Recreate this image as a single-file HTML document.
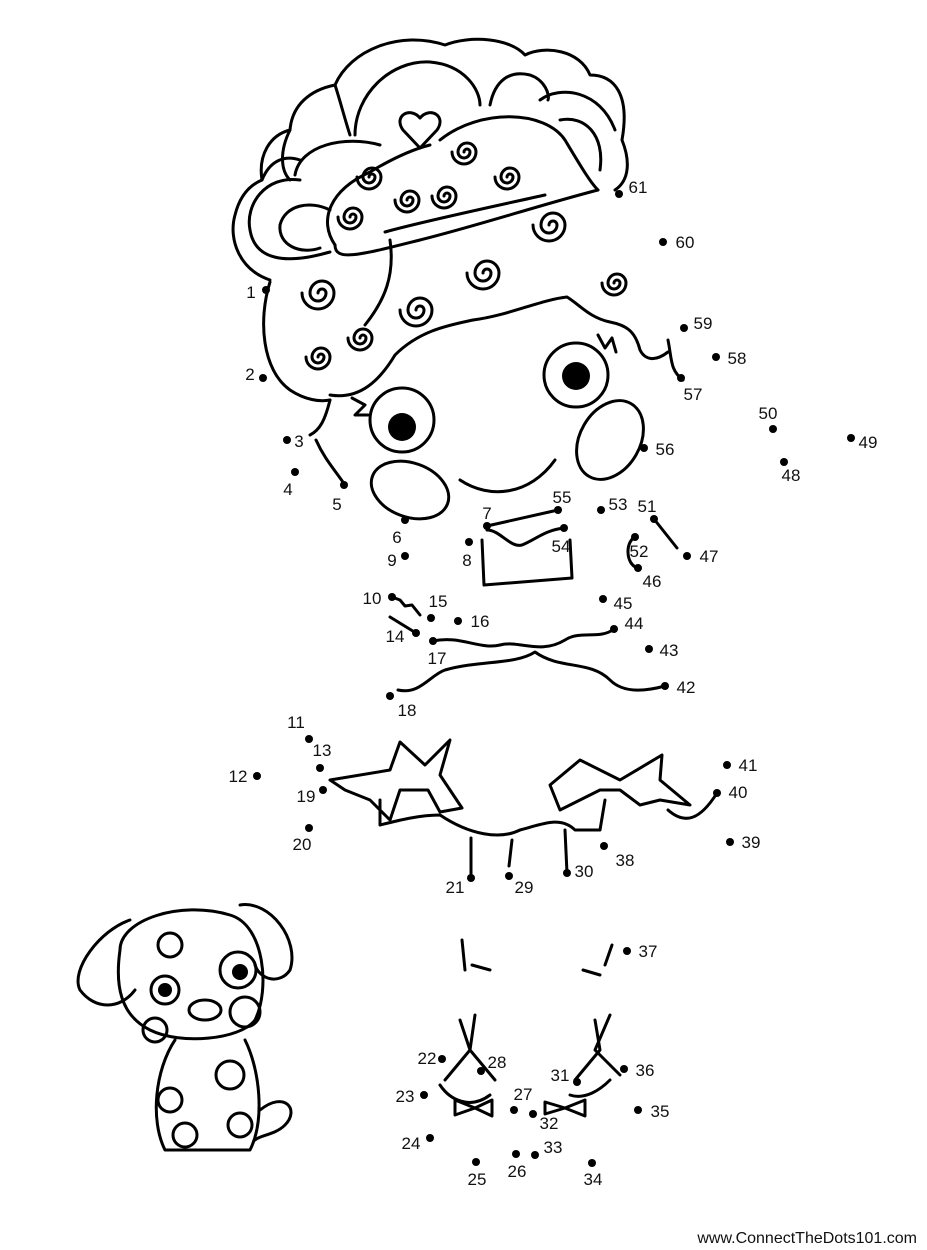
<!DOCTYPE html>
<html><head><meta charset="utf-8"><style>
html,body{margin:0;padding:0;background:#fff;}
svg{display:block}
text{font-family:"Liberation Sans",sans-serif;font-size:17px;fill:#111}
.l{fill:none;stroke:#000;stroke-width:3;stroke-linecap:round;stroke-linejoin:round}
</style></head><body>
<svg width="927" height="1250" viewBox="0 0 927 1250" xmlns="http://www.w3.org/2000/svg">
<g class="l">
<!-- hair outer -->
<path d="M270,280 C240,270 228,240 235,215 C240,195 250,185 262,180 C258,155 270,135 290,130 C292,105 310,90 335,85 C350,50 400,30 445,45 C470,35 510,38 525,55 C545,45 580,50 590,75 C615,75 630,95 622,140 C630,160 630,180 615,190"/>
<path d="M355,135 C355,95 390,60 430,62 C465,65 480,90 480,105"/>
<path d="M335,85 C340,100 345,120 350,135"/>
<path d="M490,105 C495,80 510,70 530,75 C545,80 550,95 548,100"/>
<path d="M540,100 C560,85 600,90 615,130"/>
<path d="M560,120 C585,115 605,135 600,170"/>
<path d="M290,130 C280,150 280,170 290,180"/>
<path d="M262,180 C270,160 285,155 300,160"/>
<path d="M300,180 C265,175 245,205 250,230 C255,260 285,265 330,252"/>
<path d="M330,210 C310,200 285,205 280,225 C278,245 300,255 320,248"/>
<path d="M295,175 C300,145 345,135 380,145"/>
<!-- tiara -->
<path d="M335,245 C335,262 360,255 420,240 C480,225 540,205 598,190"/>
<path d="M385,232 C420,222 500,205 545,195"/>
<path d="M335,245 C318,220 330,190 370,172 C390,160 410,150 430,145"/>
<path d="M440,140 C480,108 545,110 565,140 C580,165 590,182 598,190"/>
<path d="M420,118 C410,106 393,116 403,130 L420,148 L437,130 C447,116 430,106 420,118 Z"/>
<path d="M369,177 a3,3 0 0 1 6,0 a6,6 0 0 1 -12,0 a9,9 0 0 1 18,0 a12,12 0 0 1 -24,0"/>
<path d="M350,217 a3,3 0 0 1 6,0 a6,6 0 0 1 -12,0 a9,9 0 0 1 18,0 a12,12 0 0 1 -24,0"/>
<path d="M407,200 a3,3 0 0 1 6,0 a6,6 0 0 1 -12,0 a9,9 0 0 1 18,0 a12,12 0 0 1 -24,0"/>
<path d="M444,196 a3,3 0 0 1 6,0 a6,6 0 0 1 -12,0 a9,9 0 0 1 18,0 a12,12 0 0 1 -24,0"/>
<path d="M464,152 a3,3 0 0 1 6,0 a6,6 0 0 1 -12,0 a9,9 0 0 1 18,0 a12,12 0 0 1 -24,0"/>
<path d="M507,177 a3,3 0 0 1 6,0 a6,6 0 0 1 -12,0 a9,9 0 0 1 18,0 a12,12 0 0 1 -24,0"/>
<!-- lower hair band -->
<path d="M270,282 C258,320 262,370 290,390 C305,400 320,402 330,400"/>
<path d="M330,395 C360,400 380,380 395,355 C420,330 450,325 473,320 C510,315 540,300 567,297 C580,305 590,318 610,322 C625,325 635,330 640,350 C645,360 655,362 668,352"/>
<path d="M390,240 C395,275 385,300 365,325"/>
<path d="M318,293 a4,4 0 0 1 8,0 a8,8 0 0 1 -16,0 a12,12 0 0 1 24,0 a16,16 0 0 1 -32,0"/>
<path d="M318,357 a3,3 0 0 1 6,0 a6,6 0 0 1 -12,0 a9,9 0 0 1 18,0 a12,12 0 0 1 -24,0"/>
<path d="M360,338 a3,3 0 0 1 6,0 a6,6 0 0 1 -12,0 a9,9 0 0 1 18,0 a12,12 0 0 1 -24,0"/>
<path d="M416,310 a4,4 0 0 1 8,0 a8,8 0 0 1 -16,0 a12,12 0 0 1 24,0 a16,16 0 0 1 -32,0"/>
<path d="M483,273 a4,4 0 0 1 8,0 a8,8 0 0 1 -16,0 a12,12 0 0 1 24,0 a16,16 0 0 1 -32,0"/>
<path d="M549,225 a4,4 0 0 1 8,0 a8,8 0 0 1 -16,0 a12,12 0 0 1 24,0 a16,16 0 0 1 -32,0"/>
<path d="M614,283 a3,3 0 0 1 6,0 a6,6 0 0 1 -12,0 a9,9 0 0 1 18,0 a12,12 0 0 1 -24,0"/>
<path d="M668,340 C672,360 670,370 683,380"/>
<!-- face side -->
<path d="M330,400 C325,420 320,430 310,435"/>
<path d="M316,440 C325,460 335,470 345,485"/>
<!-- eyes -->
<circle cx="402" cy="420" r="32"/><circle cx="576" cy="375" r="32"/>
<path d="M352,398 L365,405 L355,415 L368,415"/>
<path d="M598,335 L605,348 L612,338 L616,352"/>
<!-- cheeks -->
<ellipse cx="410" cy="490" rx="40" ry="27" transform="rotate(20 410 490)"/>
<ellipse cx="610" cy="440" rx="30" ry="42" transform="rotate(30 610 440)"/>
<path d="M460,480 C490,500 530,495 555,460"/>
<!-- neckline / body -->
<path d="M487,526 L558,510"/>
<path d="M487,530 C500,530 510,548 522,545 C535,540 545,530 564,528"/>
<path d="M482,540 L484,585 L572,578 L570,540"/>
<path d="M654,519 L677,548"/>
<path d="M636,537 C625,540 625,565 638,568"/>
<path d="M392,597 L400,600 L405,606 L412,605 L420,615"/>
<path d="M390,617 L416,633"/>
<path d="M433,641 C460,635 480,650 500,645 C520,640 540,655 565,640 C580,630 600,640 614,629"/>
<path d="M398,690 C420,695 430,675 445,670 C480,660 515,665 535,652 C560,670 590,660 610,680 C625,695 650,690 665,686"/>
<!-- bows / skirt -->
<path d="M330,780 L390,770 L400,742 L425,765 L450,740 L440,775 L462,808 L440,812 L428,790 L400,790 L390,820 L370,800 L345,790 Z"/>
<path d="M550,785 L580,760 L620,780 L662,755 L660,780 L690,805 L660,800 L640,805 L620,790 L600,790 L580,800 L560,810 Z"/>
<path d="M380,800 L380,825 C400,820 420,815 440,815 C470,835 500,840 520,830 C540,825 560,815 575,830 L600,830 L605,800"/>
<path d="M668,810 C685,825 700,820 717,793"/>
<path d="M471,838 L471,878"/><path d="M512,840 L509,866"/><path d="M565,830 L567,873"/>
<!-- legs / shoes -->
<path d="M462,940 L465,970"/><path d="M472,965 L490,970"/>
<path d="M612,945 L605,965"/><path d="M583,970 L600,975"/>
<path d="M460,1020 L470,1050 L445,1080"/><path d="M475,1015 L470,1050 L495,1080"/>
<path d="M440,1085 C450,1100 470,1110 490,1095"/>
<path d="M610,1015 L595,1050 L620,1075"/><path d="M595,1020 L600,1050 L575,1080"/>
<path d="M570,1095 C585,1100 600,1090 610,1080"/>
<path d="M455,1100 L475,1108 L455,1115 Z"/><path d="M492,1100 L475,1108 L492,1116 Z"/>
<path d="M545,1102 L565,1108 L545,1114 Z"/><path d="M585,1100 L565,1108 L585,1116 Z"/>
<!-- dog -->
<path d="M130,920 C100,930 70,970 80,990 C95,1010 120,1010 135,990"/>
<path d="M240,905 C270,900 300,940 290,970 C280,985 260,980 255,965"/>
<path d="M120,950 C120,920 180,900 230,915 C265,925 270,990 255,1020 C240,1040 180,1045 150,1030 C120,1015 115,985 120,950 Z"/>
<path d="M175,1040 C155,1070 150,1120 165,1150 L250,1150 C265,1120 260,1070 245,1040"/>
<path d="M260,1110 C285,1090 300,1110 285,1125 C275,1135 260,1135 255,1140"/>
<circle cx="170" cy="945" r="12"/><circle cx="155" cy="1030" r="12"/><circle cx="245" cy="1012" r="15"/><circle cx="170" cy="1100" r="12"/><circle cx="230" cy="1075" r="14"/><circle cx="185" cy="1135" r="12"/><circle cx="240" cy="1125" r="12"/>
<ellipse cx="205" cy="1010" rx="16" ry="10"/>
<circle cx="165" cy="990" r="14"/><circle cx="238" cy="970" r="18"/>
</g>
<circle cx="165" cy="990" r="7"/><circle cx="240" cy="972" r="8"/>
<circle cx="402" cy="427" r="14"/><circle cx="576" cy="376" r="14"/>
<g fill="#000">
<circle cx="266" cy="290" r="4"/><circle cx="263" cy="378" r="4"/><circle cx="287" cy="440" r="4"/><circle cx="295" cy="472" r="4"/><circle cx="344" cy="485" r="4"/><circle cx="405" cy="520" r="4"/><circle cx="487" cy="526" r="4"/><circle cx="469" cy="542" r="4"/><circle cx="405" cy="556" r="4"/><circle cx="392" cy="597" r="4"/><circle cx="309" cy="739" r="4"/><circle cx="257" cy="776" r="4"/><circle cx="320" cy="768" r="4"/><circle cx="416" cy="633" r="4"/><circle cx="431" cy="618" r="4"/><circle cx="458" cy="621" r="4"/><circle cx="433" cy="641" r="4"/><circle cx="390" cy="696" r="4"/><circle cx="323" cy="790" r="4"/><circle cx="309" cy="828" r="4"/><circle cx="471" cy="878" r="4"/><circle cx="442" cy="1059" r="4"/><circle cx="424" cy="1095" r="4"/><circle cx="430" cy="1138" r="4"/><circle cx="476" cy="1162" r="4"/><circle cx="516" cy="1154" r="4"/><circle cx="514" cy="1110" r="4"/><circle cx="481" cy="1071" r="4"/><circle cx="509" cy="876" r="4"/><circle cx="567" cy="873" r="4"/><circle cx="577" cy="1082" r="4"/><circle cx="533" cy="1114" r="4"/><circle cx="535" cy="1155" r="4"/><circle cx="592" cy="1163" r="4"/><circle cx="638" cy="1110" r="4"/><circle cx="624" cy="1069" r="4"/><circle cx="627" cy="951" r="4"/><circle cx="604" cy="846" r="4"/><circle cx="730" cy="842" r="4"/><circle cx="717" cy="793" r="4"/><circle cx="727" cy="765" r="4"/><circle cx="665" cy="686" r="4"/><circle cx="649" cy="649" r="4"/><circle cx="614" cy="629" r="4"/><circle cx="603" cy="599" r="4"/><circle cx="638" cy="568" r="4"/><circle cx="687" cy="556" r="4"/><circle cx="784" cy="462" r="4"/><circle cx="851" cy="438" r="4"/><circle cx="773" cy="429" r="4"/><circle cx="654" cy="519" r="4"/><circle cx="635" cy="537" r="4"/><circle cx="601" cy="510" r="4"/><circle cx="564" cy="528" r="4"/><circle cx="558" cy="510" r="4"/><circle cx="644" cy="448" r="4"/><circle cx="681" cy="378" r="4"/><circle cx="716" cy="357" r="4"/><circle cx="684" cy="328" r="4"/><circle cx="663" cy="242" r="4"/><circle cx="619" cy="194" r="4"/>
</g>
<g text-anchor="middle">
<text x="251" y="298">1</text><text x="250" y="380">2</text><text x="299" y="447">3</text><text x="288" y="495">4</text><text x="337" y="510">5</text><text x="397" y="543">6</text><text x="487" y="519">7</text><text x="467" y="566">8</text><text x="392" y="566">9</text><text x="372" y="604">10</text><text x="296" y="728">11</text><text x="238" y="782">12</text><text x="322" y="756">13</text><text x="395" y="642">14</text><text x="438" y="607">15</text><text x="480" y="627">16</text><text x="437" y="664">17</text><text x="407" y="716">18</text><text x="306" y="802">19</text><text x="302" y="850">20</text><text x="455" y="893">21</text><text x="427" y="1064">22</text><text x="405" y="1102">23</text><text x="411" y="1149">24</text><text x="477" y="1185">25</text><text x="517" y="1177">26</text><text x="523" y="1100">27</text><text x="497" y="1068">28</text><text x="524" y="893">29</text><text x="584" y="877">30</text><text x="560" y="1081">31</text><text x="549" y="1129">32</text><text x="553" y="1153">33</text><text x="593" y="1185">34</text><text x="660" y="1117">35</text><text x="645" y="1076">36</text><text x="648" y="957">37</text><text x="625" y="866">38</text><text x="751" y="848">39</text><text x="738" y="798">40</text><text x="748" y="771">41</text><text x="686" y="693">42</text><text x="669" y="656">43</text><text x="634" y="629">44</text><text x="623" y="609">45</text><text x="652" y="587">46</text><text x="709" y="562">47</text><text x="791" y="481">48</text><text x="868" y="448">49</text><text x="768" y="419">50</text><text x="647" y="512">51</text><text x="639" y="557">52</text><text x="618" y="510">53</text><text x="561" y="552">54</text><text x="562" y="503">55</text><text x="665" y="455">56</text><text x="693" y="400">57</text><text x="737" y="364">58</text><text x="703" y="329">59</text><text x="685" y="248">60</text><text x="638" y="193">61</text>
</g>
<text x="917" y="1243" text-anchor="end" style="font-size:16px">www.ConnectTheDots101.com</text>
</svg>
</body></html>
